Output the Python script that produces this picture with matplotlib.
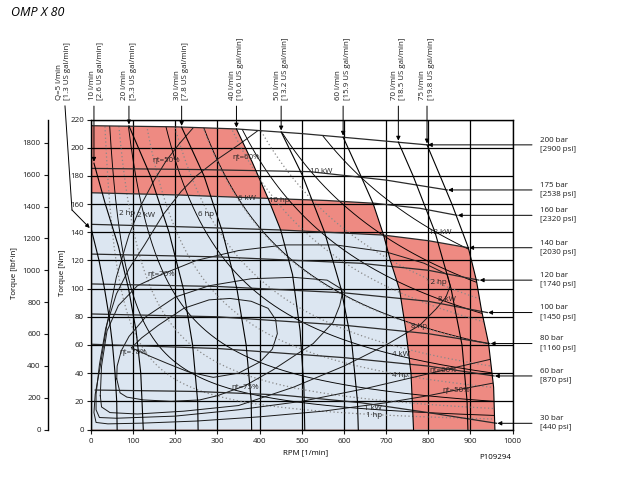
import numpy as np
import matplotlib
matplotlib.use('Agg')
import matplotlib.pyplot as plt
from matplotlib.patches import Polygon
from matplotlib.path import Path

plt.rcParams['font.family'] = ['Open Sans', 'DejaVu Sans']

# ---------------- data ----------------
# flow lines (rpm at torque Nm)
flow_lpm = [5, 10, 20, 30, 40, 50, 60, 70, 75]
flow_usgpm = ['1.3', '2.6', '5.3', '7.8', '10.6', '13.2', '15.9', '18.5', '19.8']
q5_rpm = [0, 19, 32, 43, 51, 57, 61, 62]
q5_nm = [143, 120, 100, 80, 60, 40, 20, 0]
q10_rpm = [7, 34, 65, 89, 107, 118, 124]
q10_nm = [189, 160, 130, 100, 70, 40, 0]
q20_rpm = [90, 141, 185, 219, 241, 253, 254]
q20_nm = [215.5, 180, 140, 100, 60, 20, 0]
q30_rpm = [215, 268, 312, 346, 368, 380, 381]
q30_nm = [214.5, 180, 140, 100, 60, 20, 0]
q40_rpm = [345, 382, 420, 450, 478, 496, 505, 507]
q40_nm = [213.3, 190, 164, 141.5, 110, 70, 30, 0]
q50_rpm = [451, 502, 554, 593, 619, 632, 634]
q50_nm = [211.2, 180, 140, 100, 60, 20, 0]
q60_rpm = [598, 640, 669, 694, 710, 732, 747, 759, 765]
q60_nm = [207.5, 180, 160.5, 138, 120, 99, 70, 40, 0]
q70_rpm = [729, 764, 816, 854, 880, 892, 894]
q70_nm = [204, 180, 140, 100, 60, 20, 0]
q75_rpm = [797, 828, 856, 895, 914, 926, 943, 955, 958]
q75_nm = [202, 180, 160, 129, 106, 85, 61, 30, 0]

# pressure lines
p_bar = [200, 175, 160, 140, 120, 100, 80, 60, 30]
p_psi = [2900, 2538, 2320, 2030, 1740, 1450, 1160, 870, 440]
p200_rpm = [0, 200, 345, 500, 650, 797]
p200_nm = [215.6, 214.8, 213.3, 210, 206, 202]
p175_rpm = [0, 250, 519, 700, 845]
p175_nm = [185.3, 184.5, 183, 177, 170]
p160_rpm = [0, 200, 420, 560, 674, 780, 868]
p160_nm = [168, 166.5, 164, 162.5, 160.5, 157, 152]
p140_rpm = [0, 200, 450, 693, 800, 895]
p140_nm = [145.6, 144, 141.6, 138, 134, 129]
p120_rpm = [0, 300, 638, 800, 920]
p120_nm = [124.5, 122.5, 118, 113, 106]
p100_rpm = [0, 300, 600, 800, 940]
p100_nm = [103.3, 101.5, 97, 91, 83]
p80_rpm = [0, 300, 600, 800, 946]
p80_nm = [82, 80, 74, 68, 61]
p60_rpm = [0, 300, 600, 800, 956]
p60_nm = [60.5, 57.5, 51, 45, 38]
p30_rpm = [10, 250, 450, 640, 800, 962]
p30_nm = [28, 27, 24.5, 19, 12, 4.4]

# operating ranges
int_rpm = [0, 0, 200, 345, 382, 420, 560, 669, 694, 800, 895, 914, 926, 943, 955, 958]
int_nm = [0, 215.6, 214.8, 213.3, 190, 164, 162.5, 160.5, 138, 134, 129, 106, 85, 61, 30, 0]
cont_rpm = [0, 0, 200, 420, 450, 693, 710, 732, 747, 759, 765]
cont_nm = [0, 168, 166.5, 164, 141.5, 138, 120, 99, 70, 40, 0]

# efficiency contours
eta50_rpm = [245, 210, 179, 150, 120, 90, 60, 38, 22, 10, 7, 12, 40, 120, 250, 400, 550, 700, 800, 866, 955]
eta50_nm = [215, 203, 191, 177, 160, 138, 108, 75, 45, 25, 12, 5, 4, 4.5, 6, 9, 13, 19, 24, 28, 33]
eta60_rpm = [400, 350, 301, 250, 214, 170, 127, 90, 60, 35, 20, 12, 12, 20, 60, 200, 350, 500, 650, 750, 835, 950]
eta60_nm = [213, 202, 192, 180, 169, 152, 131, 114, 96, 72, 46, 25, 14, 8.5, 8, 9.5, 14, 20, 29, 36, 42, 50]
eta70_rpm = [22, 25, 38, 65, 110, 167, 250, 350, 460, 580, 700, 790, 845, 852, 842, 820, 780, 700, 600, 480, 350, 220, 110, 45, 25, 22]
eta70_nm = [24, 45, 70, 88, 102, 110, 120, 127, 131, 131, 126, 118, 110, 102, 94, 86, 74, 60, 45, 30, 17, 13, 11, 12, 16, 24]
eta75_rpm = [61, 62, 72, 90, 130, 200, 280, 380, 480, 560, 598, 590, 574, 527, 496, 430, 365, 300, 258, 190, 124, 85, 69, 61]
eta75_nm = [36, 45, 56, 66, 80, 94, 102, 107, 108, 106, 99, 88, 76, 61, 55, 42, 31, 24, 21, 20, 21, 23, 26, 36]
eta78_rpm = [96, 140, 180, 230, 290, 350, 401, 430, 442, 438, 420, 380, 330, 280, 220, 160, 120, 96]
eta78_nm = [58, 52, 47, 41, 37, 40, 48, 57, 68, 78, 86, 91, 93, 92, 86, 74, 65, 58]

# constant power lines
kw_levels = [1, 2, 4, 6, 8, 10, 12]
hp_levels = [1, 2, 4, 6, 8, 10, 12]

# tick values
rpm_ticks = list(range(0, 1001, 100))
nm_ticks = list(range(0, 221, 20))
lbf_ticks = list(range(0, 1801, 200))

# ---------------- layout ----------------
W, H = 618, 484
RED = '#ee8a82'
BLUE = '#dce6f1'
FS = 5.7

fig = plt.figure(figsize=(W / 100, H / 100), dpi=100)
ax = fig.add_axes([91 / W, 54.5 / H, 421.6 / W, 310 / H])
ax.set_xlim(0, 1000)
ax.set_ylim(0, 220)

ax.add_patch(Polygon(np.column_stack([int_rpm, int_nm]), closed=True, fc=RED, ec='none', zorder=1))
ax.add_patch(Polygon(np.column_stack([cont_rpm, cont_nm]), closed=True, fc=BLUE, ec='none', zorder=1.1))

for x in rpm_ticks:
    ax.axvline(x, color='black', lw=0.9, zorder=2)
for y in nm_ticks:
    ax.axhline(y, color='black', lw=0.9, zorder=2)

# clip envelope: 200 bar line and 75 l/min line
env = np.array([[0, 0]] + list(zip(p200_rpm, p200_nm)) + list(zip(q75_rpm, q75_nm))[1:] + [[958, 0]])
clip_path = Path(env)

# power lines
n = np.geomspace(10, 1000, 400)
for P in kw_levels:
    T = 9549.3 * P / n
    ln, = ax.plot(n, T, color='black', lw=0.65, zorder=3)
    ln.set_clip_path(clip_path, ax.transData)
for P in hp_levels:
    T = 9549.3 * P * 0.7457 / n
    ln, = ax.plot(n, T, color='#888888', lw=0.9, ls=(0, (1, 2)), zorder=3)
    ln.set_clip_path(clip_path, ax.transData)

# efficiency contours
for r, t in [(eta50_rpm, eta50_nm), (eta60_rpm, eta60_nm), (eta70_rpm, eta70_nm),
             (eta75_rpm, eta75_nm), (eta78_rpm, eta78_nm)]:
    ln, = ax.plot(r, t, color='#1a1a1a', lw=0.7, zorder=3)
    ln.set_clip_path(clip_path, ax.transData)

# pressure lines
p_curves = [(p200_rpm, p200_nm), (p175_rpm, p175_nm), (p160_rpm, p160_nm), (p140_rpm, p140_nm),
            (p120_rpm, p120_nm), (p100_rpm, p100_nm), (p80_rpm, p80_nm), (p60_rpm, p60_nm),
            (p30_rpm, p30_nm)]
for r, t in p_curves:
    ax.plot(r, t, color='#2a2a2a', lw=0.9, zorder=3.2)

# flow lines
q_curves = [(q5_rpm, q5_nm), (q10_rpm, q10_nm), (q20_rpm, q20_nm), (q30_rpm, q30_nm),
            (q40_rpm, q40_nm), (q50_rpm, q50_nm), (q60_rpm, q60_nm), (q70_rpm, q70_nm),
            (q75_rpm, q75_nm)]
for r, t in q_curves:
    ax.plot(r, t, color='black', lw=0.8, zorder=3.3)

arrow_kw = dict(arrowstyle='-|>', lw=0.7, color='black', mutation_scale=6, shrinkA=0, shrinkB=0)

# flow labels and arrows
for i, (q, g) in enumerate(zip(flow_lpm, flow_usgpm)):
    r, t = q_curves[i]
    if q == 5:
        txt = f'Q={q} l/min\n[{g} US gal/min]'
        lx = -65
        ax.plot([-61.7, -45.1], [229.6, 155.8], color='black', lw=0.7, clip_on=False)
        ax.annotate('', xy=(-3, r and t[0]), xytext=(-45.1, 155.8), arrowprops=arrow_kw,
                    annotation_clip=False)
    else:
        txt = f'{q} l/min\n[{g} US gal/min]'
        lx = r[0] + (6 if q == 10 else 0)
        ax.annotate('', xy=(r[0], t[0] + 1), xytext=(r[0], 229.5), arrowprops=arrow_kw,
                    annotation_clip=False)
    ax.text(lx, 233.9, txt, rotation=90, rotation_mode='anchor', ha='left', va='center',
            fontsize=FS, linespacing=1.25, color='#1a1a1a', clip_on=False)

# pressure labels and arrows
for (r, t), p, psi in zip(p_curves, p_bar, p_psi):
    ax.annotate('', xy=(r[-1] + 2, t[-1]), xytext=(1046, t[-1]), arrowprops=arrow_kw,
                annotation_clip=False)
    ax.text(1065, t[-1], f'{p} bar\n[{psi} psi]', ha='left', va='center', fontsize=FS,
            linespacing=1.45, color='#1a1a1a', clip_on=False)

# in-chart labels
eta_labels = [('ηt=50%', 179, 191), ('ηt=60%', 367, 193), ('ηt=70%', 167, 110),
              ('ηt=78%', 100, 54.5), ('ηt=75%', 365, 30), ('ηt=60%', 835, 41.7),
              ('ηt=50%', 866, 28)]
kw_labels = [('1 kW', 669, 15), ('2 kW', 131, 152), ('4 kW', 735, 53), ('6 kW', 369, 164),
             ('8 kW', 845, 92), ('10 kW', 547, 183), ('12 kW', 828, 140)]
hp_labels = [('1 hp', 671, 10), ('2 hp', 86, 153.5), ('4 hp', 733, 38), ('6 hp', 273, 152.5),
             ('8 hp', 777, 73), ('10 hp', 446, 162.5), ('12 hp', 820, 104)]
for s, x, y in eta_labels + kw_labels + hp_labels:
    ax.text(x, y, s, ha='center', va='center', fontsize=FS, color='#222222', zorder=5)

# axes styling
ax.set_xticks(rpm_ticks)
ax.set_yticks(nm_ticks)
ax.tick_params(direction='out', length=3, width=0.8, labelsize=FS, pad=2, colors='#1a1a1a')
ax.tick_params(axis='x', pad=3)
for sp in ax.spines.values():
    sp.set_linewidth(1.0)
    sp.set_zorder(6)

sec = ax.secondary_yaxis(-0.1027, functions=(lambda v: v * 8.8507, lambda v: v / 8.8507))
sec.set_yticks(lbf_ticks)
sec.tick_params(direction='out', length=3, width=0.8, labelsize=FS, pad=2, colors='#1a1a1a')
sec.spines['left'].set_linewidth(1.0)

fig.text(63 / W, 1 - 273 / H, 'Torque [Nm]', rotation=90, ha='center', va='center', fontsize=FS)
fig.text(15 / W, 1 - 273 / H, 'Torque [lbf·in]', rotation=90, ha='center', va='center', fontsize=FS)
fig.text(306 / W, 1 - 452.7 / H, 'RPM [1/min]', ha='center', va='center', fontsize=FS)
fig.text(511 / W, 1 - 457.7 / H, 'P109294', ha='right', va='center', fontsize=FS)
fig.text(11 / W, 1 - 13 / H, 'OMP X 80', ha='left', va='center', fontsize=9, style='italic')

fig.savefig('out.png', dpi=100)
